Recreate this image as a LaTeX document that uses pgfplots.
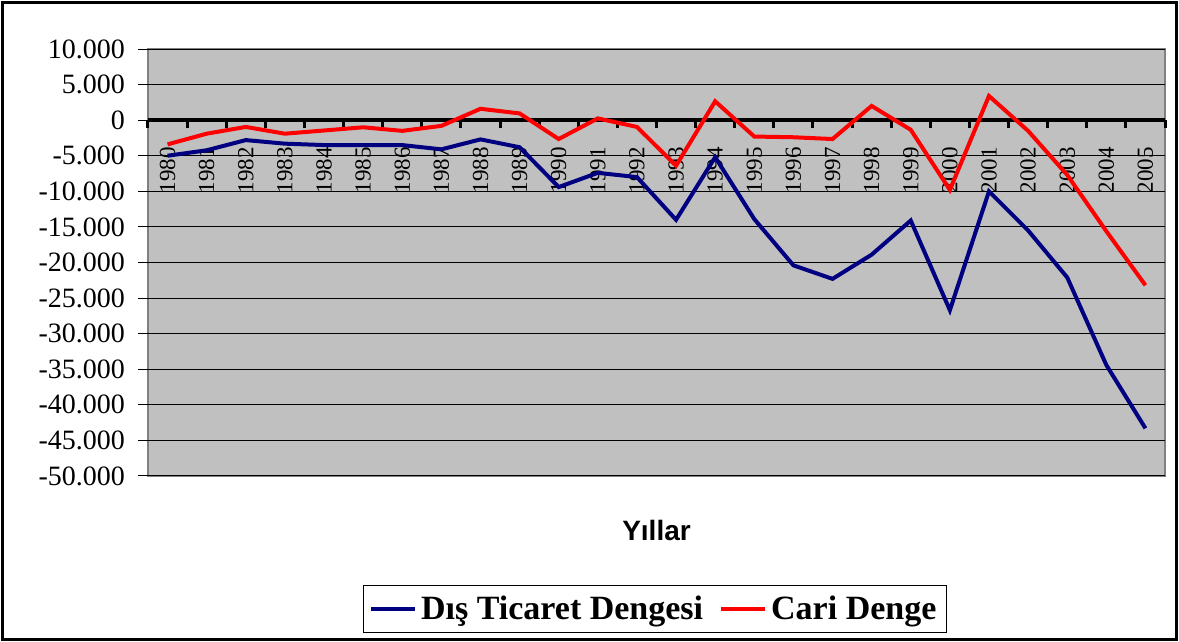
\documentclass[border=0pt]{standalone}
\usepackage{fontspec}
\setmainfont{Liberation Serif}
\newfontfamily\sansf{Liberation Sans}
\usepackage{pgfplots}
\pgfplotsset{compat=1.18}
\definecolor{plotgray}{HTML}{C0C0C0}
\definecolor{framegray}{HTML}{808080}
\definecolor{navyline}{HTML}{000080}

\begin{document}
\begin{tikzpicture}
\useasboundingbox (-74pt,-83pt) rectangle (515.5pt,238pt);
\draw[line width=1.2pt] (-72.8pt,-81.8pt) rectangle (514.3pt,236.8pt);
\begin{axis}[
    scale only axis,
    width=508.5pt, height=213.5pt,
    xmin=-0.5, xmax=25.5,
    ymin=-50000, ymax=10000,
    axis x line*=middle, axis y line*=left,
    hide obscured x ticks=false, hide obscured y ticks=false,
    axis background/.style={fill=plotgray, draw=framegray, line width=1pt},
    y axis line style={draw=none},
    x axis line style={line width=1.8pt, black},
    tick align=outside,
    ytick={-50000,-45000,...,10000},
    ymajorgrids,
    major grid style={black, line width=0.5pt},
    major y tick style={black, line width=0.5pt},
    major tick length=5pt,
    xtick={0,...,25},
    xticklabels={1980,1981,1982,1983,1984,1985,1986,1987,1988,1989,1990,1991,1992,1993,1994,1995,1996,1997,1998,1999,2000,2001,2002,2003,2004,2005},
    major x tick style={draw=none},
    minor xtick={-0.5,0.5,...,25.5},
    minor x tick style={black, line width=1.5pt},
    minor tick length=4pt,
    xticklabel shift=5pt,
    xticklabel style={rotate=90, anchor=east, font=\fontsize{11.5}{11.5}\selectfont},
    yticklabel style={font=\fontsize{14}{14}\selectfont, xshift=-3pt},
    /pgf/number format/assume math mode=true,
    /pgf/number format/.cd, fixed, precision=0, 1000 sep={.},
    /pgfplots/.cd,
    scaled y ticks=false,
    xlabel={\sansf\bfseries Yıllar},
    xlabel style={at={(axis description cs:0.5,0)}, anchor=center, yshift=-27pt, font=\fontsize{14}{14}\selectfont},
    legend style={at={(0.4983,-0.3115)}, anchor=center, draw=black, line width=0.6pt,
        font=\bfseries\fontsize{17}{17}\selectfont, legend columns=2,
        inner xsep=3pt, inner ysep=3pt,
        /tikz/every even column/.append style={column sep=6pt}},
    legend image code/.code={\draw[#1, line width=2pt] (0pt,0pt) -- (22pt,0pt);},
]
\addplot[navyline, line width=2pt] coordinates {
  (0,-4999) (1,-4230) (2,-2800) (3,-3300) (4,-3500) (5,-3500) (6,-3500)
  (7,-4100) (8,-2700) (9,-3800) (10,-9400) (11,-7400) (12,-8000) (13,-14000)
  (14,-5200) (15,-13900) (16,-20400) (17,-22300) (18,-18900) (19,-14100)
  (20,-26700) (21,-10000) (22,-15500) (23,-22100) (24,-34400) (25,-43300)
};
\addplot[red, line width=2pt] coordinates {
  (0,-3400) (1,-1900) (2,-950) (3,-1900) (4,-1450) (5,-1000) (6,-1500)
  (7,-800) (8,1600) (9,950) (10,-2650) (11,250) (12,-950) (13,-6400)
  (14,2650) (15,-2300) (16,-2400) (17,-2650) (18,2000) (19,-1350)
  (20,-9800) (21,3400) (22,-1500) (23,-7700) (24,-15600) (25,-23200)
};
\legend{Dış Ticaret Dengesi, Cari Denge}
\end{axis}
\end{tikzpicture}
\end{document}
